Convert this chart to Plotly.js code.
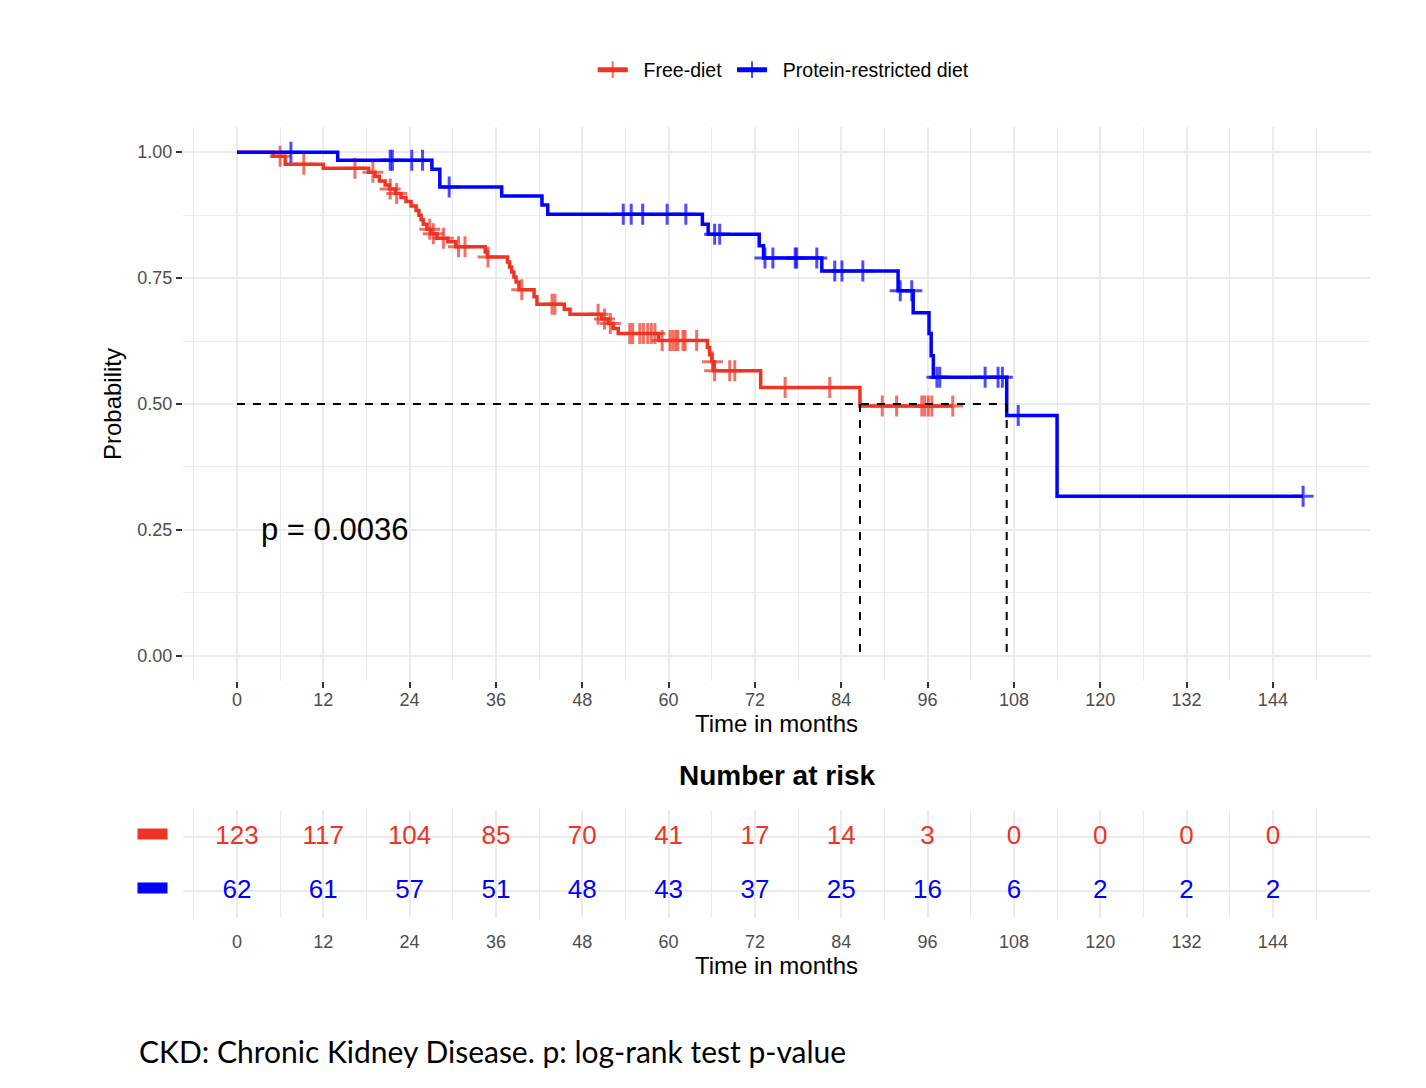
<!DOCTYPE html>
<html><head><meta charset="utf-8">
<script src="https://cdn.plot.ly/plotly-3.0.1.min.js"></script>
<style>html,body{margin:0;padding:0;background:#fff}</style>
</head><body><div id="chart" style="width:1426px;height:1088px"></div>
<script>
const group_names = ['Free-diet', 'Protein-restricted diet'];
const group_colors = ['#EE3424', '#0000FF'];

const free_event_time = [5.0, 6.7, 12.0, 18.3, 19.2, 19.8, 20.6, 21.2, 22.0, 22.8, 23.5, 24.2, 24.9, 25.3, 25.6, 25.9, 26.4, 27.0, 27.8, 29.3, 30.4, 34.5, 34.8, 37.6, 37.9, 38.2, 38.5, 38.8, 39.2, 41.3, 41.7, 45.5, 46.3, 50.7, 51.6, 52.3, 53.0, 58.6, 65.4, 65.7, 66.0, 66.3, 72.8, 86.6];
const free_event_surv = [0.992, 0.976, 0.968, 0.960, 0.952, 0.943, 0.935, 0.927, 0.918, 0.910, 0.902, 0.893, 0.884, 0.875, 0.866, 0.857, 0.847, 0.838, 0.829, 0.822, 0.812, 0.802, 0.792, 0.782, 0.772, 0.762, 0.752, 0.742, 0.727, 0.713, 0.698, 0.688, 0.678, 0.669, 0.660, 0.650, 0.640, 0.626, 0.612, 0.598, 0.584, 0.566, 0.533, 0.496];
const free_censor_time = [6.0, 9.3, 16.4, 18.9, 21.3, 22.2, 26.8, 27.3, 28.7, 30.8, 31.7, 34.9, 39.6, 43.8, 44.2, 50.2, 51.1, 51.9, 54.6, 55.0, 56.0, 56.5, 57.1, 57.6, 58.1, 59.1, 60.2, 60.6, 61.0, 61.3, 62.0, 62.3, 63.9, 66.1, 66.4, 68.5, 69.2, 76.2, 82.4, 89.7, 91.7, 95.2, 95.6, 96.1, 96.6, 99.5];

const prot_event_time = [14.0, 27.1, 28.2, 36.8, 42.4, 43.2, 64.7, 65.5, 72.6, 73.2, 81.3, 91.9, 94.0, 96.2, 96.5, 96.8, 107.0, 114.0];
const prot_event_surv = [0.984, 0.966, 0.931, 0.913, 0.895, 0.877, 0.857, 0.837, 0.814, 0.790, 0.764, 0.725, 0.681, 0.640, 0.596, 0.553, 0.477, 0.317];
const prot_censor_time = [7.5, 21.3, 21.6, 24.3, 25.8, 29.5, 53.7, 54.8, 56.4, 59.8, 62.4, 66.4, 67.1, 73.4, 74.5, 77.6, 77.8, 80.6, 83.1, 84.1, 87.0, 92.2, 93.8, 97.3, 97.7, 104.0, 105.8, 106.4, 108.6, 148.2];

const risk_time = [0, 12, 24, 36, 48, 60, 72, 84, 96, 108, 120, 132, 144];
const risk_free = [123, 117, 104, 85, 70, 41, 17, 14, 3, 0, 0, 0, 0];
const risk_prot = [62, 61, 57, 51, 48, 43, 37, 25, 16, 6, 2, 2, 2];

const y_ticks = [0, 0.25, 0.5, 0.75, 1];
const p_text = 'p = 0.0036';
const caption_text = 'CKD: Chronic Kidney Disease. p: log-rank test p-value';

const FONT = 'Liberation Sans, Arial, Helvetica, sans-serif';
const W = 1426, H = 1088;
const GRID = '#EBEBEB';
const NB = '\u00A0';

function survAt(et, es, t) {
  let s = 1;
  for (let i = 0; i < et.length; i++) if (et[i] <= t) s = es[i];
  return s;
}
function buildCurve(et, es, ct) {
  const pts = [{t: 0, s: 1, c: false}];
  et.forEach((t, i) => pts.push({t: t, s: es[i], c: false}));
  ct.forEach(t => pts.push({t: t, s: survAt(et, es, t), c: true}));
  pts.sort((a, b) => a.t - b.t || (a.c - b.c));
  return {x: pts.map(p => p.t), y: pts.map(p => p.s), size: pts.map(p => p.c ? 15 : 0)};
}
function median(et, es) {
  for (let i = 0; i < et.length; i++) if (es[i] <= 0.5) return et[i];
  return null;
}

const curves = [
  buildCurve(free_event_time, free_event_surv, free_censor_time),
  buildCurve(prot_event_time, prot_event_surv, prot_censor_time)
];
const traces = curves.map((c, i) => ({
  type: 'scatter', mode: 'lines+markers', x: c.x, y: c.y,
  name: NB + NB + group_names[i] + NB, xaxis: 'x', yaxis: 'y',
  line: {shape: 'hv', color: group_colors[i], width: 3.5},
  marker: {symbol: 'cross-thin', size: c.size, color: group_colors[i], line: {color: group_colors[i], width: 3}},
  hoverinfo: 'skip'
}));

const m1 = median(free_event_time, free_event_surv);
const m2 = median(prot_event_time, prot_event_surv);
const mMax = Math.max(m1, m2);
traces.push({
  type: 'scatter', mode: 'lines', showlegend: false, xaxis: 'x', yaxis: 'y',
  x: [0, mMax, null, m1, m1, null, m2, m2],
  y: [0.5, 0.5, null, 0.5, 0, null, 0.5, 0],
  line: {color: '#000', width: 2, dash: '8px,8px'}, hoverinfo: 'skip'
});

// risk table
[[risk_free, 2, 0], [risk_prot, 1, 1]].forEach(([vals, row, gi]) => {
  traces.push({
    type: 'scatter', mode: 'text', showlegend: false, xaxis: 'x2', yaxis: 'y2',
    x: risk_time, y: risk_time.map(() => row), text: vals.map(String),
    textposition: 'middle center',
    textfont: {family: FONT, size: 26, color: group_colors[gi]}, hoverinfo: 'skip'
  });
});

const minorX = [];
for (let v = -6; v <= 156; v += 12) minorX.push(v);
const xDomain = [183 / W, 1370 / W];

const commonX = {
  domain: xDomain, range: [-7.5, 157.5], tickmode: 'array', tickvals: risk_time,
  ticktext: risk_time.map(String),
  tickfont: {family: FONT, size: 18, color: '#4D4D4D'},
  showgrid: true, gridcolor: GRID, gridwidth: 2, zeroline: false, showline: false,
  minor: {tickmode: 'array', tickvals: minorX, showgrid: true, gridcolor: GRID, gridwidth: 1, ticks: ''},
  fixedrange: true
};

const layout = {
  width: W, height: H, paper_bgcolor: '#fff', plot_bgcolor: '#fff',
  margin: {l: 0, r: 0, t: 0, b: 0},
  font: {family: FONT, color: '#000'},
  showlegend: true,
  legend: {orientation: 'h', x: 0.551, xanchor: 'center', y: 1 - 70 / H, yanchor: 'middle',
    font: {family: FONT, size: 19.5, color: '#000'}, itemsizing: 'constant', itemwidth: 30, tracegroupgap: 0},
  xaxis: Object.assign({}, commonX, {anchor: 'y', ticks: 'outside', ticklen: 6, tickwidth: 2, tickcolor: '#333',
    ticklabelstandoff: -4,
    title: {text: 'Time in months', font: {family: FONT, size: 24, color: '#000'}, standoff: 6}}),
  yaxis: {domain: [1 - 681 / H, 1 - 127 / H], range: [-0.05, 1.05], anchor: 'x',
    tickmode: 'array', tickvals: y_ticks, ticktext: y_ticks.map(v => v.toFixed(2)),
    ticks: 'outside', ticklen: 6, tickwidth: 2, tickcolor: '#333',
    tickfont: {family: FONT, size: 18, color: '#4D4D4D'},
    showgrid: true, gridcolor: GRID, gridwidth: 2, zeroline: false, showline: false,
    minor: {tickmode: 'array', tickvals: [0.125, 0.375, 0.625, 0.875], showgrid: true, gridcolor: GRID, gridwidth: 1, ticks: ''},
    title: {text: 'Probability', font: {family: FONT, size: 24, color: '#000'}, standoff: 8}, fixedrange: true},
  xaxis2: Object.assign({}, commonX, {anchor: 'y2', ticks: 'outside', ticklen: 8, tickcolor: 'rgba(0,0,0,0)',
    ticklabelstandoff: -1,
    title: {text: 'Time in months', font: {family: FONT, size: 24, color: '#000'}, standoff: 5}}),
  yaxis2: {domain: [1 - 918 / H, 1 - 810 / H], range: [0.5, 2.5], anchor: 'x2',
    tickmode: 'array', tickvals: [1, 2], showticklabels: false, ticks: '',
    showgrid: true, gridcolor: GRID, gridwidth: 2, zeroline: false, showline: false, fixedrange: true},
  annotations: [
    {xref: 'x', yref: 'y', x: 3.0, y: 0.25, text: p_text, showarrow: false, xanchor: 'left', yanchor: 'middle',
      font: {family: FONT, size: 31, color: '#000'}},
    {xref: 'paper', yref: 'paper', x: (xDomain[0] + xDomain[1]) / 2, y: 1 - 775 / H, text: '<b>Number at risk</b>',
      showarrow: false, xanchor: 'center', yanchor: 'middle', font: {family: FONT, size: 28, color: '#000'}},
    {xref: 'paper', yref: 'y2', x: 152 / W, y: 2, text: ' ', showarrow: false, bgcolor: group_colors[0],
      xanchor: 'center', yanchor: 'middle',
      width: 29, height: 10, borderpad: 0, font: {size: 6}, yshift: 3},
    {xref: 'paper', yref: 'y2', x: 152 / W, y: 1, text: ' ', showarrow: false, bgcolor: group_colors[1],
      xanchor: 'center', yanchor: 'middle',
      width: 29, height: 10, borderpad: 0, font: {size: 6}, yshift: 3},
    {xref: 'paper', yref: 'paper', x: 137 / W, y: 1 - 1051 / H, text: caption_text, showarrow: false,
      xanchor: 'left', yanchor: 'middle', font: {family: 'Lato, Open Sans, sans-serif', size: 30, color: '#000'}}
  ]
};

Plotly.newPlot('chart', traces, layout, {staticPlot: true, displayModeBar: false});
</script>
</body></html>
